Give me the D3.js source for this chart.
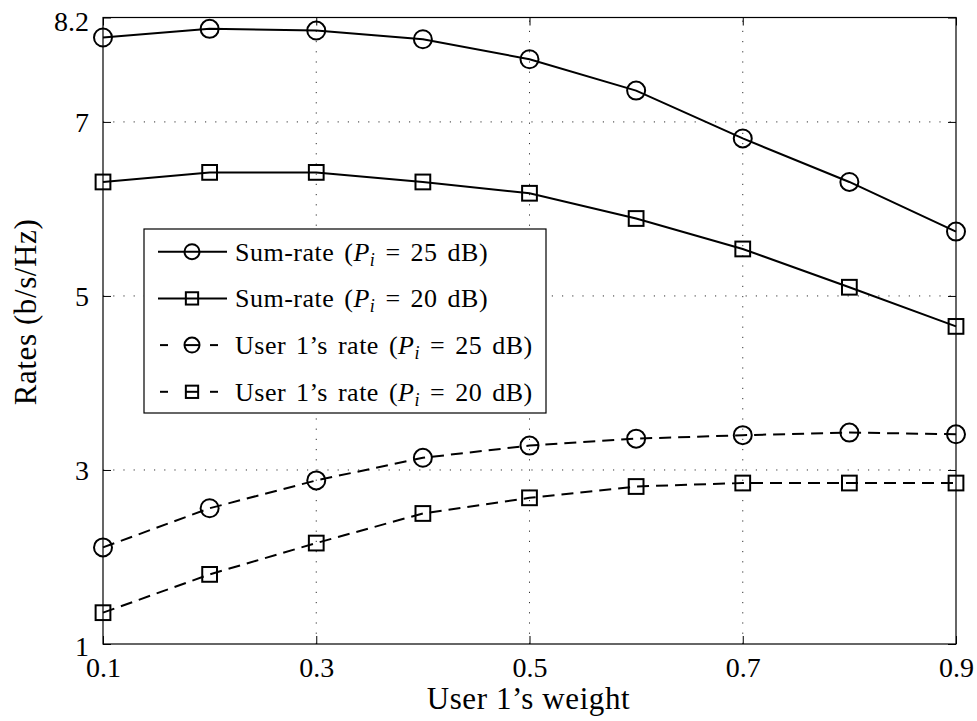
<!DOCTYPE html>
<html>
<head>
<meta charset="utf-8">
<script src="https://cdn.jsdelivr.net/npm/d3@7"></script>
<style>
  html, body { margin: 0; padding: 0; background: #fff; }
  svg text { font-family: "Liberation Serif", "DejaVu Serif", serif; }
</style>
</head>
<body>
<svg id="chart" width="977" height="721"></svg>
<script>
// User 1's weight (x) and the four rate curves (b/s/Hz)
const weights = [0.1, 0.2, 0.3, 0.4, 0.5, 0.6, 0.7, 0.8, 0.9];
const sumRate25 = [7.97, 8.07, 8.05, 7.95, 7.72, 7.36, 6.81, 6.31, 5.74];
const sumRate20 = [6.31, 6.42, 6.42, 6.31, 6.18, 5.89, 5.54, 5.10, 4.65];
const user1Rate25 = [2.11, 2.56, 2.88, 3.14, 3.28, 3.36, 3.40, 3.43, 3.41];
const user1Rate20 = [1.36, 1.80, 2.16, 2.50, 2.68, 2.81, 2.85, 2.85, 2.85];

const xTicks = [0.1, 0.3, 0.5, 0.7, 0.9];
const yTicks = [1, 3, 5, 7, 8.2];
const xDomain = [0.1, 0.9];
const yDomain = [1, 8.2];

const seriesList = [
  { label: "Sum-rate", power: "25", values: sumRate25, marker: "circle", dashed: false },
  { label: "Sum-rate", power: "20", values: sumRate20, marker: "square", dashed: false },
  { label: "User 1\u2019s rate", power: "25", values: user1Rate25, marker: "circle", dashed: true },
  { label: "User 1\u2019s rate", power: "20", values: user1Rate20, marker: "square", dashed: true }
];

const FONT = "'Liberation Serif', 'DejaVu Serif', serif";
const svg = d3.select("#chart");
const plot = { left: 103, right: 956, top: 17.5, bottom: 644 };

const x = d3.scaleLinear().domain(xDomain).range([plot.left, plot.right]);
const y = d3.scaleLinear().domain(yDomain).range([plot.bottom, plot.top]);

const DASH = "12,7";
const LINE_W = 2;

// dotted grid at interior ticks
const grid = svg.append("g").attr("stroke", "#333").attr("stroke-width", 1)
  .attr("stroke-dasharray", "1.2,9").attr("fill", "none");
xTicks.filter(t => t > xDomain[0] && t < xDomain[1]).forEach(t => {
  grid.append("line").attr("x1", x(t)).attr("x2", x(t))
    .attr("y1", plot.bottom).attr("y2", plot.top);
});
yTicks.filter(t => t > yDomain[0] && t < yDomain[1]).forEach(t => {
  grid.append("line").attr("y1", y(t)).attr("y2", y(t))
    .attr("x1", plot.left).attr("x2", plot.right);
});

// axes with inward ticks on all four sides
const tickLen = 8;
const TICK_FONT = 28;
const axisStyle = g => {
  g.attr("font-family", FONT).attr("font-size", TICK_FONT);
  g.select(".domain").remove();
  g.selectAll(".tick line").attr("stroke", "#000").attr("stroke-width", 1);
  g.selectAll(".tick text").attr("fill", "#000")
    .attr("font-family", FONT).attr("font-size", TICK_FONT);
};
svg.append("g").attr("transform", `translate(0,${plot.bottom})`)
  .call(d3.axisBottom(x).tickValues(xTicks).tickSizeInner(-tickLen).tickPadding(13)
    .tickFormat(d3.format(".1f")))
  .call(axisStyle);
svg.append("g").attr("transform", `translate(0,${plot.top})`)
  .call(d3.axisTop(x).tickValues(xTicks).tickSizeInner(-tickLen).tickFormat(""))
  .call(axisStyle);
svg.append("g").attr("transform", `translate(${plot.left},0)`)
  .call(d3.axisLeft(y).tickValues(yTicks).tickSizeInner(-tickLen).tickPadding(14)
    .tickFormat(d => d === 8.2 ? "8.2" : d3.format("d")(d)))
  .call(axisStyle)
  .call(g => g.selectAll(".tick text").attr("dy", d => d === 8.2 ? "0.45em" : (d === 1 ? "0.42em" : "0.34em")));
svg.append("g").attr("transform", `translate(${plot.right},0)`)
  .call(d3.axisRight(y).tickValues(yTicks).tickSizeInner(-tickLen).tickFormat(""))
  .call(axisStyle);

// frame
svg.append("rect").attr("x", plot.left).attr("y", plot.top)
  .attr("width", plot.right - plot.left).attr("height", plot.bottom - plot.top)
  .attr("fill", "none").attr("stroke", "#000").attr("stroke-width", 1.2);

// markers
function drawMarker(g, type, cx, cy, size) {
  if (type === "circle") {
    g.append("circle").attr("cx", cx).attr("cy", cy).attr("r", size)
      .attr("fill", "none").attr("stroke", "#000").attr("stroke-width", 2);
  } else {
    const h = size * 0.82;
    g.append("rect").attr("x", cx - h).attr("y", cy - h)
      .attr("width", 2 * h).attr("height", 2 * h)
      .attr("fill", "none").attr("stroke", "#000").attr("stroke-width", 2);
  }
}

// series lines and markers
const line = d3.line().x(d => x(d[0])).y(d => y(d[1]));
seriesList.forEach(s => {
  const pts = weights.map((w, i) => [w, s.values[i]]);
  const g = svg.append("g");
  g.append("path").datum(pts).attr("d", line)
    .attr("fill", "none").attr("stroke", "#000").attr("stroke-width", LINE_W)
    .attr("stroke-dasharray", s.dashed ? DASH : null);
  pts.forEach(p => drawMarker(g, s.marker, x(p[0]), y(p[1]), 9));
});

// legend
const legend = { x: 144, y: 229, w: 402, h: 184, rowGap: 46.7, firstRow: 251.7 };
const lg = svg.append("g");
lg.append("rect").attr("x", legend.x).attr("y", legend.y)
  .attr("width", legend.w).attr("height", legend.h)
  .attr("fill", "#fff").attr("stroke", "#000").attr("stroke-width", 1.2);

seriesList.forEach((s, i) => {
  const cy = legend.firstRow + i * legend.rowGap;
  const x0 = legend.x + 14, x1 = legend.x + 83, mx = legend.x + 48;
  if (s.dashed) {
    [[mx - 32, mx - 24], [mx - 7, mx + 7], [mx + 18, mx + 26]].forEach(seg => {
      lg.append("line").attr("x1", seg[0]).attr("x2", seg[1]).attr("y1", cy).attr("y2", cy)
        .attr("stroke", "#000").attr("stroke-width", LINE_W);
    });
  } else {
    lg.append("line").attr("x1", x0).attr("x2", x1).attr("y1", cy).attr("y2", cy)
      .attr("stroke", "#000").attr("stroke-width", LINE_W);
  }
  drawMarker(lg.append("g"), s.marker, mx, cy, 7.5);

  const t = lg.append("text").attr("x", legend.x + 91).attr("y", cy + 9)
    .attr("font-family", FONT).attr("font-size", 26).attr("fill", "#000")
    .style("letter-spacing", "0.5px").style("word-spacing", "3px");
  t.append("tspan").text(s.label + " (");
  t.append("tspan").attr("font-style", "italic").text("P");
  t.append("tspan").attr("font-style", "italic").attr("font-size", 18)
    .attr("dy", 5).text("i");
  t.append("tspan").attr("dy", -5).text(" = " + s.power + " dB)");
});

// axis titles
svg.append("text").attr("x", (plot.left + plot.right) / 2 - 1).attr("y", 709)
  .attr("text-anchor", "middle").attr("font-family", FONT).attr("font-size", 31)
  .style("letter-spacing", "0.6px").text("User 1\u2019s weight");
svg.append("text").attr("transform", "translate(36,312) rotate(-90)")
  .attr("text-anchor", "middle").attr("font-family", FONT).attr("font-size", 31)
  .style("letter-spacing", "0.6px").text("Rates (b/s/Hz)");
</script>
</body>
</html>
